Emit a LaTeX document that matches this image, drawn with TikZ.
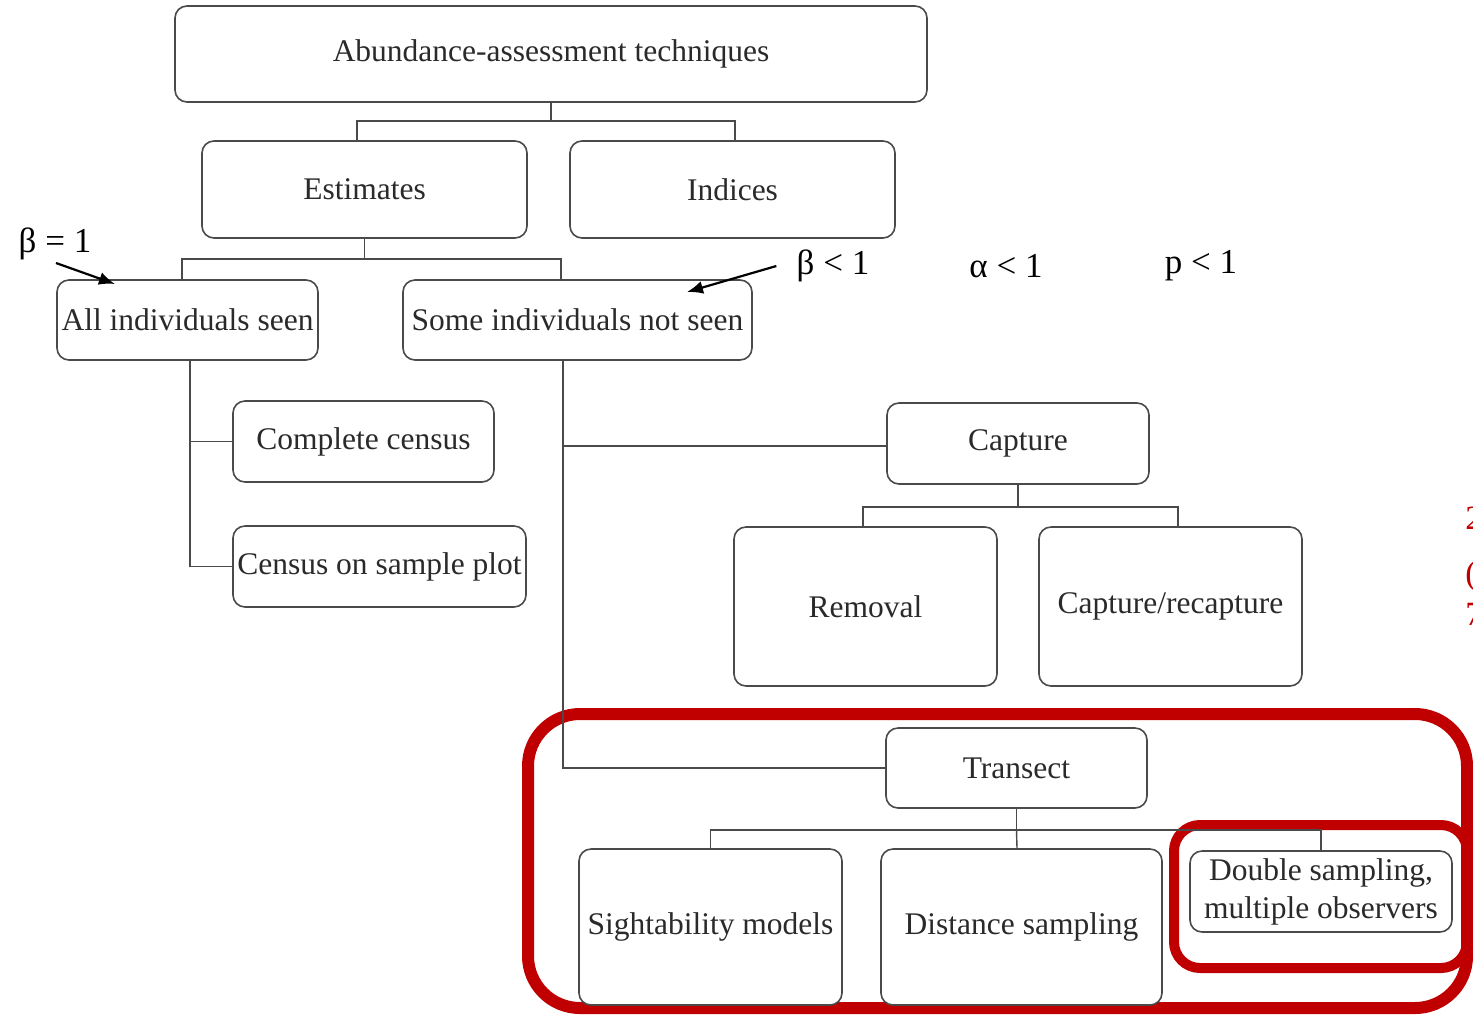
\documentclass[tikz,border=0pt]{standalone}
\usepackage{fontspec}
\usetikzlibrary{arrows.meta}
\setmainfont{Liberation Serif}
\definecolor{boxline}{HTML}{4A4A4A}
\definecolor{txt}{HTML}{2A2A2A}
\definecolor{hl}{HTML}{C00000}
\begin{document}
\begin{tikzpicture}[x=0.5pt,y=-0.5pt,
  box/.style={draw=boxline,line width=0.8pt,rounded corners=6pt,fill=white,
    inner sep=0pt,align=center,text=txt,font=\fontsize{15.75}{17}\selectfont},
  link/.style={draw=boxline,line width=0.7pt},
  param/.style={text=black,font=\fontsize{17.5}{19}\selectfont,inner sep=0pt},
  pointer/.style={draw=black,line width=1.1pt,-{Latex[length=8pt,width=6.5pt]}},
  frame/.style={draw=hl,rounded corners=#1}]
\useasboundingbox (0,0) rectangle (1473,1014);

% highlight frames (drawn first so boxes sit on top)
\draw[frame=26pt,line width=6pt] (528,714) rectangle (1467,1008);
\draw[frame=13pt,line width=5pt] (1174,825) rectangle (1467,968);

% boxes
\node[box,minimum width=376pt,minimum height=48pt] (top) at (551,54) {Abundance-assessment techniques};
\node[box,minimum width=162.5pt,minimum height=48.5pt] (est) at (364.5,189.5) {Estimates};
\node[box,minimum width=162.5pt,minimum height=48.5pt] (ind) at (732.5,189.5) {Indices};
\node[box,minimum width=130.5pt,minimum height=40pt] (ais) at (187.5,320) {All individuals seen};
\node[box,minimum width=174.5pt,minimum height=40pt] (sis) at (577.5,320) {Some individuals not seen};
\node[box,minimum width=130.5pt,minimum height=40.5pt] (cc) at (363.5,441.5) {Complete census};
\node[box,minimum width=146.5pt,minimum height=40.5pt] (csp) at (379.5,566.5) {Census on sample plot};
\node[box,minimum width=131pt,minimum height=40.5pt] (cap) at (1018,443.5) {Capture};
\node[box,minimum width=131.5pt,minimum height=79.5pt] (rem) at (865.5,606.5) {Removal};
\node[box,minimum width=131.5pt,minimum height=79.5pt] (cr) at (1170.5,606.5) {Capture/recapture};
\node[box,minimum width=130.5pt,minimum height=40pt] (tra) at (1016.5,768) {Transect};
\node[box,minimum width=131.5pt,minimum height=78pt] (sig) at (710.5,927) {Sightability models};
\node[box,minimum width=140.5pt,minimum height=78pt] (dis) at (1021.5,927) {Distance sampling};
\node[box,minimum width=131pt,minimum height=40.5pt,font=\fontsize{15.75}{19}\selectfont] (dbl) at (1321,891.5) {Double sampling,\\multiple observers};

% tree connectors
\draw[link] (top.south) -- ++(0,18) coordinate (j1);
\draw[link] ([xshift=-3.75pt]est.north) |- (j1) -| ([xshift=1.25pt]ind.north);
\draw[link] (est.south) -- ++(0,20) coordinate (j2);
\draw[link] ([xshift=-2.75pt]ais.north) |- (j2) -| ([xshift=-8.25pt]sis.north);
\draw[link] ([xshift=1.25pt]ais.south) |- (cc.west);
\draw[link] ([xshift=1.25pt]ais.south) |- (csp.west);
\draw[link] ([xshift=-7.25pt]sis.south) |- ([yshift=-1.25pt]cap.west);
\draw[link] ([xshift=-7.25pt]sis.south) |- (tra.west);
\draw[link] (cap.south) -- ++(0,22) coordinate (j3);
\draw[link] ([xshift=-1.25pt]rem.north) |- (j3) -| ([xshift=3.75pt]cr.north);
\draw[link] (tra.south) -- ++(0,21) coordinate (j4);
\draw[link] (sig.north) |- (j4) -| (dbl.north);
\draw[link] (j4) -- ([xshift=-2.25pt]dis.north);

% parameter labels
\node[param] (b1) at (55,244) {β = 1};
\node[param] (b2) at (833,266) {β < 1};
\node[param] (a1) at (1006,266) {α < 1};
\node[param] (p1) at (1201,266) {p < 1};
\coordinate (b1tail) at (56,263);
\coordinate (b1tip) at (115,284);
\coordinate (b2tip) at (687,292);
\draw[pointer] (b1tail) -- (b1tip);
\draw[pointer] ([xshift=-10pt]b2.west) -- (b2tip);

% text running off the right edge
\node[text=hl,anchor=west,font=\fontsize{17}{19}\selectfont,inner sep=0pt] (r1) at (1465,518) {2};
\node[text=hl,anchor=west,font=\fontsize{17}{19}\selectfont,inner sep=0pt] (r2) at (1465,576) {(};
\node[text=hl,anchor=west,font=\fontsize{17}{19}\selectfont,inner sep=0pt] (r3) at (1465,614) {7};
\end{tikzpicture}
\end{document}
